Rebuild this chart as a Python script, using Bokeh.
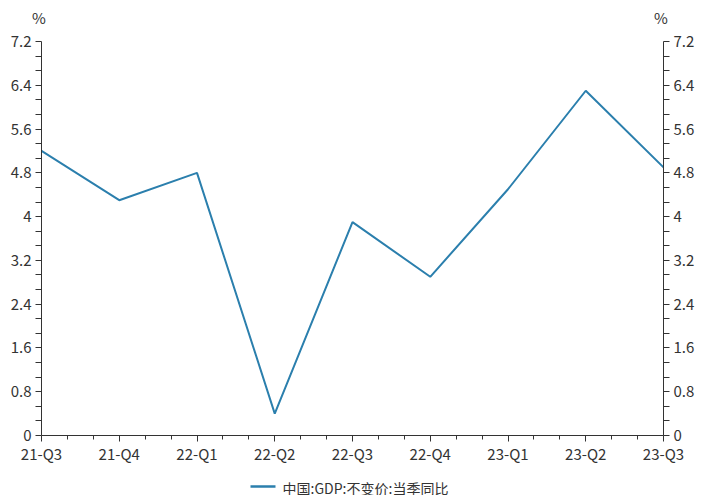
from bokeh.plotting import figure
from bokeh.models import (FixedTicker, LinearAxis, Range1d, ColumnDataSource)
from bokeh.embed import file_html
from bokeh.resources import INLINE

quarters = ["21-Q3", "21-Q4", "22-Q1", "22-Q2", "22-Q3", "22-Q4", "23-Q1", "23-Q2", "23-Q3"]
gdp_yoy = [5.2, 4.3, 4.8, 0.4, 3.9, 2.9, 4.5, 6.3, 4.9]
y_ticks = [0, 0.8, 1.6, 2.4, 3.2, 4.0, 4.8, 5.6, 6.4, 7.2]
y_tick_labels = ["0", "0.8", "1.6", "2.4", "3.2", "4", "4.8", "5.6", "6.4", "7.2"]
series_name = "中国:GDP:不变价:当季同比"
unit_label = "%"

FONT = "Noto Sans CJK SC"
AXIS_COLOR = "#333333"
TEXT_COLOR = "#333333"
LINE_COLOR = "#2b7fad"
FS = "15px"

FRAME_W, FRAME_H = 622, 394
xs = list(range(len(quarters)))
src = ColumnDataSource(dict(x=xs, y=gdp_yoy))
y_max = y_ticks[-1]
x_max = len(quarters) - 1
px_x = FRAME_W / x_max

p = figure(frame_width=FRAME_W, frame_height=FRAME_H, output_backend="svg", toolbar_location=None,
           x_range=Range1d(0, x_max), y_range=Range1d(0, y_max),
           min_border_left=41, min_border_right=35, min_border_top=41, min_border_bottom=60)
p.outline_line_color = None
p.xgrid.visible = False
p.ygrid.visible = False
p.background_fill_color = "white"
p.border_fill_color = "white"

r = p.line("x", "y", source=src, line_color=LINE_COLOR, line_width=2)

x_minor = []
for i in range(x_max):
    x_minor += [i + 1 / 3, i + 2 / 3]
y_minor = []
for i in range(len(y_ticks) - 1):
    y_minor += [y_ticks[i] + 0.8 / 3, y_ticks[i] + 1.6 / 3]

def style_axis(ax):
    ax.axis_line_color = AXIS_COLOR
    ax.major_tick_line_color = AXIS_COLOR
    ax.minor_tick_line_color = AXIS_COLOR
    ax.major_label_text_color = TEXT_COLOR
    ax.major_label_text_font = FONT
    ax.major_label_text_font_size = FS

xa = p.xaxis[0]
xa.ticker = FixedTicker(ticks=xs, minor_ticks=x_minor)
xa.major_label_overrides = {i: q for i, q in enumerate(quarters)}
xa.major_tick_in = 0
xa.major_tick_out = 6
xa.minor_tick_in = 0
xa.minor_tick_out = 4
xa.major_label_standoff = 1
# invisible spacer label that pushes the legend row down
xa.axis_label = "\u00a0"
xa.axis_label_standoff = 0
xa.axis_label_text_font_size = "16px"
style_axis(xa)

ya = p.yaxis[0]
ya.ticker = FixedTicker(ticks=y_ticks, minor_ticks=y_minor)
ya.major_label_overrides = {t: l for t, l in zip(y_ticks, y_tick_labels)}
ya.major_tick_in = 0
ya.major_tick_out = 6
ya.minor_tick_in = 0
ya.minor_tick_out = 6
ya.major_label_standoff = 4
style_axis(ya)

ra = LinearAxis(ticker=FixedTicker(ticks=y_ticks, minor_ticks=y_minor))
ra.major_label_overrides = {t: l for t, l in zip(y_ticks, y_tick_labels)}
ra.major_tick_in = 0
ra.major_tick_out = 6
ra.minor_tick_in = 0
ra.minor_tick_out = 6
ra.major_label_standoff = 4
style_axis(ra)
p.add_layout(ra, "right")

# unit labels above both y axes, drawn as a tick-less top axis
ta = LinearAxis(ticker=FixedTicker(ticks=[0, x_max], minor_ticks=[]))
ta.major_label_overrides = {0: unit_label + "\u2004", x_max: unit_label + "\u2004"}
ta.axis_line_color = None
ta.major_tick_line_color = None
ta.minor_tick_line_color = None
ta.major_tick_out = 0
ta.major_tick_in = 0
ta.major_label_standoff = 14
ta.major_label_text_color = TEXT_COLOR
ta.major_label_text_font = FONT
ta.major_label_text_font_size = FS
p.add_layout(ta, "above")

# legend row: a bounded axis line as the sample, its single tick label as the text
sample_x0 = 209 / px_x
sample_x1 = 234 / px_x
text_x = 324 / px_x

lg = LinearAxis(ticker=FixedTicker(ticks=[text_x], minor_ticks=[]), bounds=(sample_x0, sample_x1))
lg.major_label_overrides = {text_x: series_name}
lg.axis_line_color = LINE_COLOR
lg.axis_line_width = 2.5
lg.major_tick_line_color = None
lg.minor_tick_line_color = None
lg.major_tick_out = 0
lg.major_tick_in = 0
lg.major_label_standoff = -9
lg.major_label_text_color = TEXT_COLOR
lg.major_label_text_font = FONT
lg.major_label_text_font_size = "14px"
p.add_layout(lg, "below")

open("out.html", "w").write(file_html(p, INLINE))
